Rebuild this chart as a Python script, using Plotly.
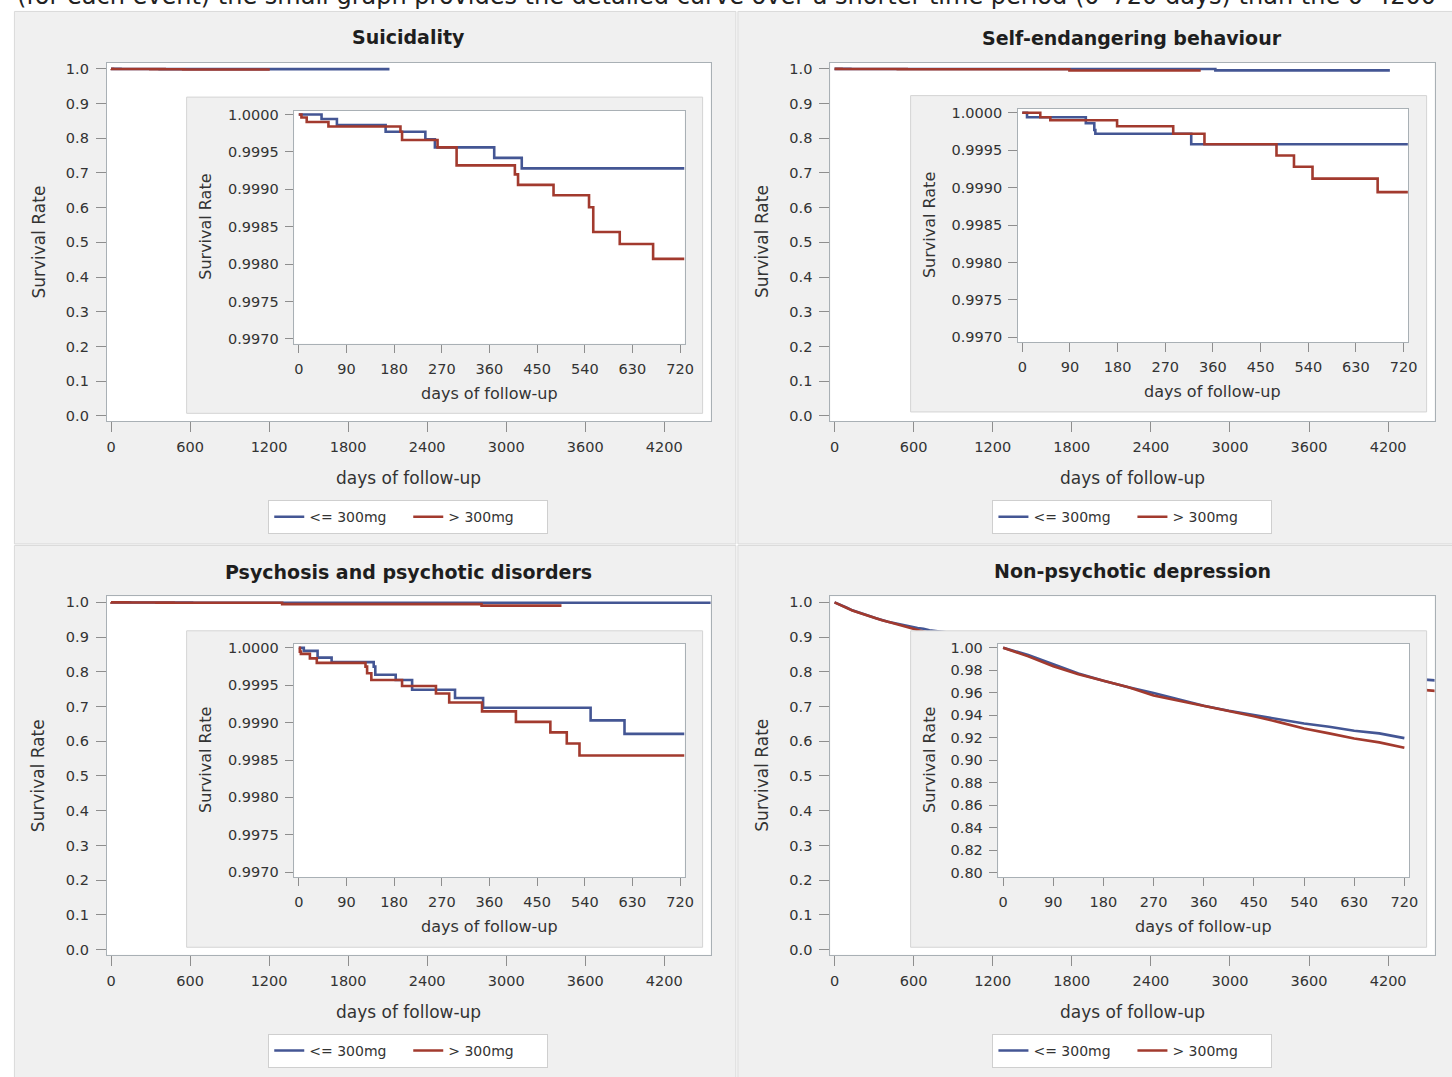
import plotly.graph_objects as go

W, H = 1452, 1077

# ---------------- data ----------------
panel_titles = ["Suicidality", "Self-endangering behaviour",
                "Psychosis and psychotic disorders", "Non-psychotic depression"]
group_labels = ["<= 300mg", "> 300mg"]
x_title = "days of follow-up"
y_title = "Survival Rate"
top_text = ("(for each event) the small graph provides the detailed curve over a "
            "shorter time period (0\u2013720 days) than the 0\u20134200")

main_x_ticks = [0, 600, 1200, 1800, 2400, 3000, 3600, 4200]
main_y_ticks = [0.0, 0.1, 0.2, 0.3, 0.4, 0.5, 0.6, 0.7, 0.8, 0.9, 1.0]
inset_x_ticks = [0, 90, 180, 270, 360, 450, 540, 630, 720]
inset_y_ticks_fine = [0.9970, 0.9975, 0.9980, 0.9985, 0.9990, 0.9995, 1.0000]
inset_y_ticks_dep = [0.80, 0.82, 0.84, 0.86, 0.88, 0.90, 0.92, 0.94, 0.96, 0.98, 1.00]

# Suicidality
sui_low_days = [0, 43, 72, 164, 239, 257, 369, 421, 728]
sui_low_surv = [1.0, 0.99994, 0.99986, 0.99977, 0.99967, 0.99956, 0.99942, 0.99928, 0.99928]
sui_low_tail_days = [2114]
sui_low_tail_surv = [0.99928]
sui_high_days = [0, 5, 15, 56, 192, 195, 262, 298, 408, 414, 481, 548, 556, 606, 669, 728]
sui_high_surv = [1.0, 0.99996, 0.9999, 0.99984, 0.99977, 0.99966, 0.99956, 0.99932,
                 0.9992, 0.99906, 0.99892, 0.99876, 0.99843, 0.99827, 0.99807, 0.99807]
sui_high_tail_days = [1205]
sui_high_tail_surv = [0.99807]

# Self-endangering behaviour
seb_low_days = [0, 9, 120, 136, 138, 319, 728]
seb_low_surv = [1.0, 0.99994, 0.99986, 0.99977, 0.99972, 0.99958, 0.99958]
seb_low_tail_days = [2889, 4213]
seb_low_tail_surv = [0.9957, 0.9957]
seb_high_days = [0, 34, 53, 179, 285, 344, 480, 513, 548, 671, 728]
seb_high_surv = [1.0, 0.99994, 0.9999, 0.99982, 0.99972, 0.99958, 0.99943, 0.99928,
                 0.99912, 0.99894, 0.99894]
seb_high_tail_days = [1782, 2778]
seb_high_tail_surv = [0.9955, 0.9955]

# Psychosis and psychotic disorders
psy_low_days = [0, 9.5, 35.5, 62, 141.5, 144.5, 183, 214, 295, 348, 551, 615, 728]
psy_low_surv = [1.0, 0.99996, 0.99987, 0.99981, 0.99975, 0.99964, 0.99957, 0.99944,
                0.99933, 0.9992, 0.99903, 0.99885, 0.99885]
psy_low_tail_days = [4560]
psy_low_tail_surv = [0.99885]
psy_high_days = [0, 2, 4, 21, 34, 126, 129, 137, 195, 259, 284, 346, 410, 475, 506, 530, 728]
psy_high_surv = [1.0, 0.99995, 0.99992, 0.99986, 0.9998, 0.99975, 0.99966, 0.99957,
                 0.99949, 0.99939, 0.99927, 0.99915, 0.99901, 0.99887, 0.99872, 0.99856, 0.99856]
psy_high_tail_days = [1299, 2813, 3420]
psy_high_tail_surv = [0.9948, 0.9905, 0.9905]

# Non-psychotic depression
dep_days = [0, 45, 90, 135, 180, 225, 270, 315, 360, 405, 450, 495, 540, 585, 630, 675, 720]
dep_low_surv = [1.0, 0.9935, 0.9852, 0.9770, 0.9705, 0.9648, 0.9598, 0.9542, 0.9483,
                0.9439, 0.9403, 0.9365, 0.9326, 0.9297, 0.9261, 0.9238, 0.9196]
dep_high_surv = [1.0, 0.9923, 0.9835, 0.9764, 0.9705, 0.9648, 0.9575, 0.9530, 0.9483,
                 0.9439, 0.9391, 0.9338, 0.9282, 0.9238, 0.9193, 0.9158, 0.9111]
dep_tail_days = [1080, 1440, 1800, 2160, 2520, 2880, 3240, 3600, 3960, 4320, 4560]
dep_low_tail_surv = [0.903, 0.886, 0.869, 0.853, 0.838, 0.825, 0.813, 0.802, 0.792, 0.782, 0.775]
dep_high_tail_surv = [0.893, 0.872, 0.851, 0.832, 0.815, 0.800, 0.787, 0.775, 0.764, 0.753, 0.745]

series = [
    dict(low=(sui_low_days, sui_low_surv, sui_low_tail_days, sui_low_tail_surv),
         high=(sui_high_days, sui_high_surv, sui_high_tail_days, sui_high_tail_surv),
         shape="hv", yticks=inset_y_ticks_fine, yfmt=".4f", yrange=[0.996935, 1.000052]),
    dict(low=(seb_low_days, seb_low_surv, seb_low_tail_days, seb_low_tail_surv),
         high=(seb_high_days, seb_high_surv, seb_high_tail_days, seb_high_tail_surv),
         shape="hv", yticks=inset_y_ticks_fine, yfmt=".4f", yrange=[0.996935, 1.000052]),
    dict(low=(psy_low_days, psy_low_surv, psy_low_tail_days, psy_low_tail_surv),
         high=(psy_high_days, psy_high_surv, psy_high_tail_days, psy_high_tail_surv),
         shape="hv", yticks=inset_y_ticks_fine, yfmt=".4f", yrange=[0.996935, 1.000052]),
    dict(low=(dep_days, dep_low_surv, dep_tail_days, dep_low_tail_surv),
         high=(dep_days, dep_high_surv, dep_tail_days, dep_high_tail_surv),
         shape="linear", yticks=inset_y_ticks_dep, yfmt=".2f", yrange=[0.79611, 1.00327]),
]

# ---------------- styling / geometry (pixels) ----------------
BLUE = "#445694"
RED = "#A23A2E"
PANEL_BG = "#F0F0F0"
PANEL_LINE = "#D9D9D9"
AXIS_LINE = "#A9B0B5"
TICK_COL = "#8E8E8E"
TXT = "#333333"
FONT = "DejaVu Sans"

GEOM = [
    dict(bg=(14.5, 740.5, 7.5, 544.0), main=(107.5, 715.0, 59.2, 420.0),
         box=(187.8, 707.0, 93.8, 412.4), inner=(296.0, 689.0, 107.4, 342.4),
         title=(411.2, 33.7), legend=(410.8, 517.0)),
    dict(bg=(742.5, 1470.0, 7.5, 544.0), main=(835.5, 1443.5, 59.2, 420.0),
         box=(916.3, 1435.5, 92.3, 411.0), inner=(1024.0, 1417.0, 105.7, 340.7),
         title=(1139.5, 34.5), legend=(1139.5, 517.0)),
    dict(bg=(14.5, 740.5, 545.5, 1095.0), main=(107.5, 715.0, 596.6, 957.8),
         box=(187.8, 707.0, 631.5, 950.3), inner=(296.0, 689.0, 644.8, 879.5),
         title=(411.2, 572.0), legend=(410.8, 1054.7)),
    dict(bg=(742.5, 1470.0, 545.5, 1095.0), main=(835.5, 1443.5, 596.6, 957.8),
         box=(916.3, 1435.5, 631.5, 950.3), inner=(1004.5, 1418.0, 644.8, 879.5),
         title=(1139.5, 571.0), legend=(1139.5, 1054.7)),
]


def px(x):
    return x / W


def py(y):
    return 1 - y / H


def ax_name(kind, n):
    return f"{kind}axis" if n == 1 else f"{kind}axis{n}"


def ax_ref(kind, n):
    return kind if n == 1 else f"{kind}{n}"


fig = go.Figure()
layout = dict(
    width=W, height=H, autosize=False,
    margin=dict(l=0, r=0, t=0, b=0),
    paper_bgcolor="white", plot_bgcolor="rgba(0,0,0,0)",
    font=dict(family=FONT, color=TXT),
    shapes=[], annotations=[],
)

# panel backgrounds and main plot white walls (paper shapes below everything)
for g in GEOM:
    x0, x1, y0, y1 = g["bg"]
    layout["shapes"].append(dict(type="rect", xref="paper", yref="paper", layer="below",
                                 x0=px(x0), x1=px(x1), y0=py(y1), y1=py(y0),
                                 fillcolor=PANEL_BG, line=dict(color=PANEL_LINE, width=1)))
for g in GEOM:
    x0, x1, y0, y1 = g["main"]
    layout["shapes"].append(dict(type="rect", xref="paper", yref="paper", layer="below",
                                 x0=px(x0), x1=px(x1), y0=py(y1), y1=py(y0),
                                 fillcolor="white", line=dict(width=0)))

tick_font = dict(family=FONT, size=14.5, color=TXT)

for i, (g, s) in enumerate(zip(GEOM, series)):
    n_main, n_box, n_in = 3 * i + 1, 3 * i + 2, 3 * i + 3
    legend_id = "legend" if i == 0 else f"legend{i + 1}"

    # ---- main axes ----
    mx0, mx1, my0, my1 = g["main"]
    layout[ax_name("x", n_main)] = dict(
        domain=[px(mx0), px(mx1)], anchor=ax_ref("y", n_main), range=[-32, 4552],
        tickmode="array", tickvals=main_x_ticks, ticks="outside", ticklen=10,
        tickcolor=TICK_COL, showline=True, mirror=True, linecolor=AXIS_LINE,
        showgrid=False, zeroline=False, tickfont=tick_font, ticklabelstandoff=3,
        fixedrange=True)
    layout[ax_name("y", n_main)] = dict(
        domain=[py(my1), py(my0)], anchor=ax_ref("x", n_main), range=[-0.0145, 1.0177],
        tickmode="array", tickvals=main_y_ticks, tickformat=".1f", ticks="outside",
        ticklen=10, tickcolor=TICK_COL, showline=True, mirror=True, linecolor=AXIS_LINE,
        showgrid=False, zeroline=False, tickfont=tick_font, ticklabelstandoff=4,
        fixedrange=True)

    for (days, surv, tdays, tsurv), col, name in zip((s["low"], s["high"]), (BLUE, RED), group_labels):
        fig.add_trace(go.Scatter(
            x=list(days) + list(tdays), y=list(surv) + list(tsurv), mode="lines",
            line=dict(color=col, width=2.6, shape=s["shape"]), name=name,
            legend=legend_id, showlegend=True, hoverinfo="skip",
            xaxis=ax_ref("x", n_main), yaxis=ax_ref("y", n_main)))

    # ---- inset frame (grey box + white wall) in its own subplot ----
    bx0, bx1, by0, by1 = g["box"]
    ix0, ix1, iy0, iy1 = g["inner"]
    pad = 2
    layout[ax_name("x", n_box)] = dict(domain=[px(bx0 - pad), px(bx1 + pad)],
                                       anchor=ax_ref("y", n_box),
                                       range=[bx0 - pad, bx1 + pad], visible=False,
                                       fixedrange=True)
    layout[ax_name("y", n_box)] = dict(domain=[py(by1 + pad), py(by0 - pad)],
                                       anchor=ax_ref("x", n_box),
                                       range=[by1 + pad, by0 - pad], visible=False,
                                       fixedrange=True)
    fig.add_trace(go.Scatter(x=[bx0, bx1, bx1, bx0, bx0], y=[by0, by0, by1, by1, by0],
                             mode="lines", fill="toself", fillcolor=PANEL_BG,
                             line=dict(color="#D4D4D4", width=1), showlegend=False,
                             hoverinfo="skip", xaxis=ax_ref("x", n_box), yaxis=ax_ref("y", n_box)))
    fig.add_trace(go.Scatter(x=[ix0, ix1, ix1, ix0, ix0], y=[iy0, iy0, iy1, iy1, iy0],
                             mode="lines", fill="toself", fillcolor="white",
                             line=dict(color="white", width=0), showlegend=False,
                             hoverinfo="skip", xaxis=ax_ref("x", n_box), yaxis=ax_ref("y", n_box)))

    # ---- inset axes ----
    layout[ax_name("x", n_in)] = dict(
        domain=[px(ix0), px(ix1)], anchor=ax_ref("y", n_in), range=[-8.7, 728.7],
        tickmode="array", tickvals=inset_x_ticks, ticks="outside", ticklen=8.5,
        tickcolor=TICK_COL, showline=True, mirror=True, linecolor=AXIS_LINE,
        showgrid=False, zeroline=False, tickfont=tick_font, ticklabelstandoff=3,
        fixedrange=True)
    layout[ax_name("y", n_in)] = dict(
        domain=[py(iy1), py(iy0)], anchor=ax_ref("x", n_in), range=s["yrange"],
        tickmode="array", tickvals=s["yticks"], tickformat=s["yfmt"], ticks="outside",
        ticklen=8.5, tickcolor=TICK_COL, showline=True, mirror=True, linecolor=AXIS_LINE,
        showgrid=False, zeroline=False, tickfont=tick_font, ticklabelstandoff=3,
        fixedrange=True)

    for (days, surv, _, _), col, name in zip((s["low"], s["high"]), (BLUE, RED), group_labels):
        fig.add_trace(go.Scatter(
            x=days, y=surv, mode="lines",
            line=dict(color=col, width=2.6, shape=s["shape"]), name=name,
            showlegend=False, hoverinfo="skip",
            xaxis=ax_ref("x", n_in), yaxis=ax_ref("y", n_in)))

    # ---- texts ----
    tx, ty = g["title"]
    layout["annotations"].append(dict(
        text=f"<b>{panel_titles[i]}</b>", x=px(tx), y=py(ty), xref="paper", yref="paper",
        xanchor="center", yanchor="middle", showarrow=False,
        font=dict(family=FONT, size=19, color="#1E1E1E")))
    layout["annotations"].append(dict(
        text=y_title, x=px(mx0 - 68.5), y=py((my0 + my1) / 2), xref="paper", yref="paper",
        xanchor="center", yanchor="middle", textangle=-90, showarrow=False,
        font=dict(family=FONT, size=17, color=TXT)))
    layout["annotations"].append(dict(
        text=x_title, x=px((mx0 + mx1) / 2), y=py(my1 + 58), xref="paper", yref="paper",
        xanchor="center", yanchor="middle", showarrow=False,
        font=dict(family=FONT, size=17, color=TXT)))
    layout["annotations"].append(dict(
        text=y_title, x=px(bx0 + 19), y=py((iy0 + iy1) / 2), xref="paper", yref="paper",
        xanchor="center", yanchor="middle", textangle=-90, showarrow=False,
        font=dict(family=FONT, size=16, color=TXT)))
    layout["annotations"].append(dict(
        text=x_title, x=px((ix0 + ix1) / 2), y=py(iy1 + 50), xref="paper", yref="paper",
        xanchor="center", yanchor="middle", showarrow=False,
        font=dict(family=FONT, size=16, color=TXT)))

    # ---- legend ----
    lx, ly = g["legend"]
    layout[legend_id] = dict(
        x=px(lx), y=py(ly), xref="paper", yref="paper", xanchor="center", yanchor="middle",
        orientation="h", bgcolor="white", bordercolor="#CFCFCF", borderwidth=1,
        font=dict(family=FONT, size=14, color=TXT), entrywidth=94, entrywidthmode="pixels",
        traceorder="normal", itemclick=False, itemdoubleclick=False)

layout["annotations"].append(dict(
    text=top_text, x=px(15), y=py(8), xref="paper", yref="paper",
    xanchor="left", yanchor="bottom", showarrow=False,
    font=dict(family=FONT, size=24, color="#222222")))

fig.update_layout(**layout)
fig.write_html("out.html", config={"displayModeBar": False},
               post_script="document.body.style.margin='0';document.body.style.padding='0';"
                           "document.documentElement.style.overflow='hidden';")
